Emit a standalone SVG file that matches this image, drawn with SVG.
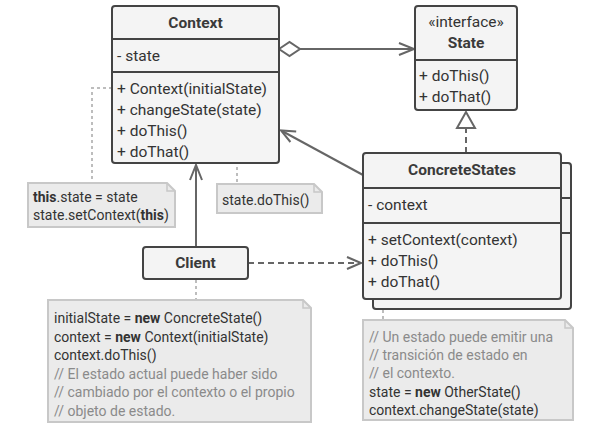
<svg xmlns="http://www.w3.org/2000/svg" width="608" height="436" viewBox="0 0 608 436">
<style>
.box{fill:#f4f4f4;stroke:#444;stroke-width:2}
.div{stroke:#444;stroke-width:2}
.t{font-family:Roboto,"Noto Sans",sans-serif;font-size:15.5px;fill:#333}
.b{font-weight:bold;fill:#3a3a3a}
.n{font-family:Roboto,"Noto Sans",sans-serif;font-size:14px;fill:#333}
.c{fill:#8a8a8a}
.note{fill:#ebebeb;stroke:#c8c8c8;stroke-width:2}
.fold{fill:none;stroke:#c8c8c8;stroke-width:1.5}
.ln{fill:none;stroke:#666;stroke-width:2}
.dash{fill:none;stroke:#666;stroke-width:2;stroke-dasharray:6 4}
.dot{fill:none;stroke:#bdbdbd;stroke-width:2;stroke-dasharray:3 3}
</style>
<g id="connectors">
<path class="ln" d="M300,49 H414"/>
<polygon points="279,49 289.5,42 300,49 289.5,56" fill="#fff" stroke="#666" stroke-width="2"/>
<path class="ln" d="M399,43 L414,49 L399,55"/>
<path class="ln" d="M196,247 V165"/>
<path class="ln" d="M190,180 L196,165 L202,180"/>
<path class="dash" d="M248,263 H361"/>
<path class="ln" d="M347,257 L361,263 L347,269"/>
<path class="ln" d="M363,175 L282,131"/>
<path class="ln" d="M290.4,142 L281,130.5 L296.2,131.5"/>
<path class="dash" d="M466,153 V129"/>
<polygon points="466,112 457,128 475,128" fill="#fff" stroke="#666" stroke-width="2"/>
<path class="dot" d="M112,88 H92 V183"/>
<circle cx="201" cy="132" r="3" fill="#fff" stroke="#bdbdbd" stroke-width="1.5"/>
<path class="dot" d="M206,132 H237 V184"/>
<path class="dot" d="M196,280 V300"/>
<path class="dot" d="M383,310 V320"/>
</g>
<g id="context">
<rect class="box" x="112" y="6" width="167" height="157" rx="3"/>
<path class="div" d="M112,39 H279 M112,72 H279"/>
<text class="t b" x="195.5" y="28" text-anchor="middle">Context</text>
<text class="t" x="117" y="61">- state</text>
<text class="t" x="117" y="94">+ Context(initialState)</text>
<text class="t" x="117" y="115">+ changeState(state)</text>
<text class="t" x="117" y="136">+ doThis()</text>
<text class="t" x="117" y="157">+ doThat()</text>
</g>
<g id="state">
<rect class="box" x="415" y="6" width="102" height="104" rx="3"/>
<path class="div" d="M415,60 H517"/>
<text class="t" x="466" y="27" text-anchor="middle">«interface»</text>
<text class="t b" x="466" y="48" text-anchor="middle">State</text>
<text class="t" x="419" y="81">+ doThis()</text>
<text class="t" x="419" y="102">+ doThat()</text>
</g>
<g id="concretestates">
<rect class="box" x="373" y="163" width="198" height="146" rx="3"/>
<path class="div" d="M373,198 H571 M373,233 H571"/>
<rect class="box" x="363" y="153" width="198" height="146" rx="3"/>
<path class="div" d="M363,188 H561 M363,223 H561"/>
<text class="t b" x="462" y="175" text-anchor="middle">ConcreteStates</text>
<text class="t" x="368" y="210">- context</text>
<text class="t" x="368" y="245">+ setContext(context)</text>
<text class="t" x="368" y="266">+ doThis()</text>
<text class="t" x="368" y="287">+ doThat()</text>
</g>
<g id="client">
<rect class="box" x="143" y="247" width="105" height="32" rx="3"/>
<text class="t b" x="195.5" y="268" text-anchor="middle">Client</text>
</g>
<g id="note1">
<path class="note" d="M28,183 H167 L175,191 V227 H28 Z"/>
<path class="fold" d="M167,183 V191 H175"/>
<text class="n" x="33" y="202"><tspan font-weight="bold">this</tspan>.state = state</text>
<text class="n" x="33" y="220">state.setContext(<tspan font-weight="bold">this</tspan>)</text>
</g>
<g id="note2">
<path class="note" d="M217,184 H314 L322,192 V213 H217 Z"/>
<path class="fold" d="M314,184 V192 H322"/>
<text class="n" x="222" y="205">state.doThis()</text>
</g>
<g id="note3">
<path class="note" d="M48,300 H303 L311,308 V422 H48 Z"/>
<path class="fold" d="M303,300 V308 H311"/>
<text class="n" x="54" y="323">initialState = <tspan font-weight="bold">new</tspan> ConcreteState()</text>
<text class="n" x="54" y="341.5">context = <tspan font-weight="bold">new</tspan> Context(initialState)</text>
<text class="n" x="54" y="360">context.doThis()</text>
<text class="n c" x="54" y="378.5">// El estado actual puede haber sido</text>
<text class="n c" x="54" y="397">// cambiado por el contexto o el propio</text>
<text class="n c" x="54" y="415.5">// objeto de estado.</text>
</g>
<g id="note4">
<path class="note" d="M363,320 H565 L573,328 V420 H363 Z"/>
<path class="fold" d="M565,320 V328 H573"/>
<text class="n c" x="369" y="342">// Un estado puede emitir una</text>
<text class="n c" x="369" y="360">// transición de estado en</text>
<text class="n c" x="369" y="378">// el contexto.</text>
<text class="n" x="369" y="397">state = <tspan font-weight="bold">new</tspan> OtherState()</text>
<text class="n" x="369" y="415">context.changeState(state)</text>
</g>
</svg>
